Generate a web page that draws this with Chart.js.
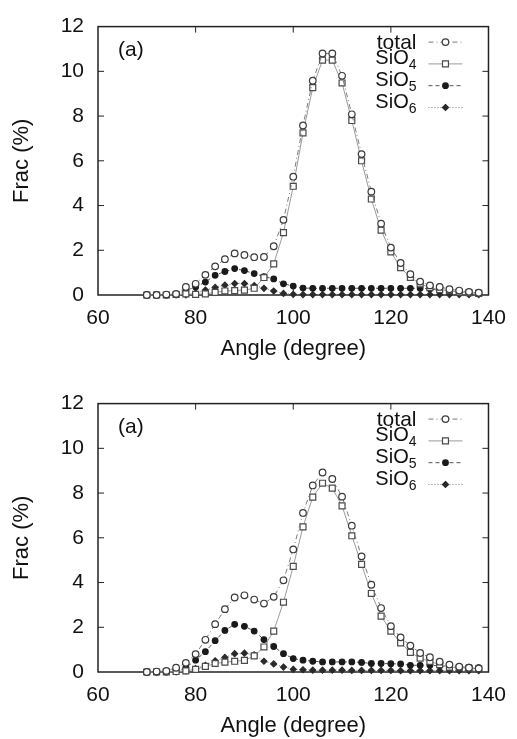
<!DOCTYPE html>
<html>
<head>
<meta charset="utf-8">
<title>Si-O-Si angle distribution</title>
<script src="https://cdn.jsdelivr.net/npm/chart.js@4.4.1/dist/chart.umd.min.js"></script>
<style>
  html, body { margin: 0; padding: 0; background: #fff; overflow: hidden; }
  canvas { position: absolute; left: 0; }
  #chartTop { top: 0; }
  #chartBottom { top: 377px; }
</style>
</head>
<body>
<canvas id="chartTop" width="517" height="377"></canvas>
<canvas id="chartBottom" width="517" height="377"></canvas>
<script>
// Angle bins (degree)
const angles = [70, 72, 74, 76, 78, 80, 82, 84, 86, 88,
                90, 92, 94, 96, 98, 100, 102, 104, 106, 108,
                110, 112, 114, 116, 118, 120, 122, 124, 126, 128,
                130, 132, 134, 136, 138];

// Upper panel (%)
const totalTop = [0, 0, 0.02, 0.05, 0.36, 0.5, 0.9, 1.28, 1.6, 1.86,
                  1.79, 1.69, 1.7, 2.18, 3.36, 5.29, 7.58, 9.58, 10.8, 10.8,
                  9.8, 8.08, 6.3, 4.62, 3.19, 2.12, 1.43, 0.93, 0.6, 0.43,
                  0.36, 0.26, 0.2, 0.14, 0.1];
const sio4Top = [0, 0, 0, 0.02, 0.05, 0.03, 0.05, 0.12, 0.18, 0.2,
                 0.22, 0.3, 0.78, 1.39, 2.79, 4.86, 7.25, 9.27, 10.5, 10.5,
                 9.48, 7.8, 6.0, 4.29, 2.9, 1.93, 1.22, 0.79, 0.5, 0.33,
                 0.24, 0.19, 0.13, 0.1, 0.07];
const sio5Top = [0, 0, 0, 0.03, 0.2, 0.36, 0.58, 0.88, 1.05, 1.18,
                 1.09, 0.96, 0.82, 0.72, 0.5, 0.4, 0.31, 0.3, 0.3, 0.3,
                 0.3, 0.3, 0.3, 0.3, 0.3, 0.3, 0.3, 0.3, 0.3, 0.28,
                 0.2, 0.17, 0.14, 0.12, 0.1];
const sio6Top = [0, 0, 0, 0, 0, 0.08, 0.22, 0.34, 0.44, 0.51,
                 0.51, 0.42, 0.3, 0.18, 0.07, 0.03, 0.02, 0.02, 0.02, 0.02,
                 0.02, 0.02, 0.02, 0.02, 0.02, 0.02, 0.02, 0.02, 0.02, 0.02,
                 0.02, 0.02, 0.02, 0.02, 0.02];

// Lower panel (%)
const totalBottom = [0, 0.02, 0.05, 0.19, 0.41, 0.8, 1.44, 2.14, 2.81, 3.33,
                     3.43, 3.24, 3.06, 3.36, 4.1, 5.48, 7.11, 8.34, 8.92, 8.63,
                     7.84, 6.54, 5.17, 3.9, 2.86, 2.05, 1.55, 1.18, 0.85, 0.66,
                     0.46, 0.33, 0.24, 0.19, 0.16];
const sio4Bottom = [0, 0, 0, 0.02, 0.05, 0.12, 0.25, 0.38, 0.44, 0.48,
                    0.52, 0.72, 1.12, 1.83, 3.12, 4.72, 6.49, 7.82, 8.44, 8.22,
                    7.43, 6.09, 4.81, 3.51, 2.5, 1.83, 1.3, 0.88, 0.62, 0.47,
                    0.33, 0.22, 0.19, 0.16, 0.14];
const sio5Bottom = [0, 0, 0, 0.03, 0.19, 0.53, 0.91, 1.4, 1.86, 2.13,
                    2.04, 1.83, 1.45, 1.14, 0.82, 0.6, 0.53, 0.48, 0.45, 0.45,
                    0.45, 0.45, 0.43, 0.38, 0.38, 0.37, 0.36, 0.3, 0.3, 0.3,
                    0.28, 0.24, 0.22, 0.22, 0.2];
const sio6Bottom = [0, 0, 0, 0, 0.05, 0.15, 0.3, 0.5, 0.65, 0.82,
                    0.84, 0.77, 0.48, 0.36, 0.22, 0.12, 0.1, 0.08, 0.08, 0.08,
                    0.08, 0.07, 0.07, 0.07, 0.07, 0.07, 0.06, 0.06, 0.06, 0.06,
                    0.06, 0.06, 0.06, 0.06, 0.06];

// Legend names: main text + subscript
const seriesNames = [['total', ''], ['SiO', '4'], ['SiO', '5'], ['SiO', '6']];
const panelLabel = '(a)';

// Line/marker look of each series (gnuplot-like greys)
const seriesStyles = [
  { dash: [5, 3, 1, 3], line: '#7a7a7a', point: 'circle', radius: 3.3, fill: '#fff', edge: '#3a3a3a' },
  { dash: [], line: '#9a9a9a', point: 'rect', radius: 4.2, fill: '#fff', edge: '#4a4a4a' },
  { dash: [4, 3], line: '#555', point: 'circle', radius: 2.8, fill: '#1a1a1a', edge: '#1a1a1a' },
  { dash: [1, 2], line: '#777', point: 'rectRot', radius: 3, fill: '#2a2a2a', edge: '#2a2a2a' }
];

Chart.defaults.font.family = "'Liberation Sans', Arial, sans-serif";
Chart.defaults.color = '#111';

// draw one marker by hand (for the legend samples)
function drawMarker(ctx, st, x, y) {
  ctx.save();
  ctx.setLineDash([]);
  ctx.lineWidth = 1.2;
  ctx.fillStyle = st.fill;
  ctx.strokeStyle = st.edge;
  ctx.beginPath();
  if (st.point === 'circle') {
    ctx.arc(x, y, st.radius, 0, Math.PI * 2);
  } else if (st.point === 'rect') {
    const h = st.radius * Math.SQRT1_2;
    ctx.rect(x - h, y - h, h * 2, h * 2);
  } else {
    const r = st.radius;
    ctx.moveTo(x, y - r); ctx.lineTo(x + r, y); ctx.lineTo(x, y + r); ctx.lineTo(x - r, y);
    ctx.closePath();
  }
  ctx.fill();
  ctx.stroke();
  ctx.restore();
}

// frame box with inward ticks, legend and panel label
const gnuplotLook = {
  id: 'gnuplotLook',
  beforeDatasetsDraw(chart) {
    const { ctx, chartArea: a, scales } = chart;
    ctx.save();
    ctx.strokeStyle = '#222';
    ctx.lineWidth = 1.5;
    ctx.strokeRect(a.left, a.top, a.right - a.left, a.bottom - a.top);
    ctx.lineWidth = 1;
    ctx.beginPath();
    scales.x.ticks.forEach(t => {
      const px = scales.x.getPixelForValue(t.value);
      if (px <= a.left + 1 || px >= a.right - 1) return;
      ctx.moveTo(px, a.bottom); ctx.lineTo(px, a.bottom - 6);
      ctx.moveTo(px, a.top); ctx.lineTo(px, a.top + 6);
    });
    scales.y.ticks.forEach(t => {
      const py = scales.y.getPixelForValue(t.value);
      if (py <= a.top + 1 || py >= a.bottom - 1) return;
      ctx.moveTo(a.left, py); ctx.lineTo(a.left + 6, py);
      ctx.moveTo(a.right, py); ctx.lineTo(a.right - 6, py);
    });
    ctx.stroke();
    ctx.restore();
  },
  afterDraw(chart) {
    const { ctx, chartArea: a } = chart;
    ctx.save();
    ctx.fillStyle = '#111';
    ctx.textBaseline = 'alphabetic';

    // panel label
    ctx.font = "21px 'Liberation Sans', Arial, sans-serif";
    ctx.textAlign = 'left';
    ctx.fillText(panelLabel, a.left + 20, a.top + 29);

    // legend (text right aligned, sample on the right)
    const textRight = a.right - 72;
    seriesNames.forEach((nm, i) => {
      const rowY = a.top + 15.5 + 21.8 * i;
      const st = seriesStyles[i];
      ctx.textAlign = 'right';
      if (nm[1] === '') {
        ctx.font = "21px 'Liberation Sans', Arial, sans-serif";
        ctx.fillText(nm[0], textRight, rowY + 6.5);
      } else {
        ctx.font = "14px 'Liberation Sans', Arial, sans-serif";
        const subW = ctx.measureText(nm[1]).width;
        ctx.fillText(nm[1], textRight, rowY + 5.5);
        ctx.font = "20px 'Liberation Sans', Arial, sans-serif";
        ctx.fillText(nm[0], textRight - subW, rowY + 0.5);
      }
      ctx.strokeStyle = st.line;
      ctx.lineWidth = 1;
      ctx.setLineDash(st.dash);
      ctx.beginPath();
      ctx.moveTo(a.right - 60, rowY);
      ctx.lineTo(a.right - 26, rowY);
      ctx.stroke();
      drawMarker(ctx, st, a.right - 43, rowY);
    });
    ctx.restore();
  }
};

function makeDataset(values, i) {
  const st = seriesStyles[i];
  return {
    label: seriesNames[i].join(''),
    data: angles.map((a, k) => ({ x: a, y: values[k] })),
    borderColor: st.line,
    borderWidth: 1,
    borderDash: st.dash,
    pointStyle: st.point,
    pointRadius: st.radius,
    pointBackgroundColor: st.fill,
    pointBorderColor: st.edge,
    pointBorderWidth: 1.2,
    tension: 0,
    clip: false
  };
}

function createPanel(canvasId, total, sio4, sio5, sio6) {
  const ctx = document.getElementById(canvasId).getContext('2d');
  return new Chart(ctx, {
    type: 'line',
    data: {
      datasets: [total, sio4, sio5, sio6].map(makeDataset)
    },
    options: {
      responsive: false,
      animation: false,
      devicePixelRatio: 1,
      layout: { padding: { top: 15, right: 24, left: 0, bottom: 0 } },
      plugins: {
        legend: { display: false },
        tooltip: { enabled: false }
      },
      scales: {
        x: {
          type: 'linear',
          min: 60,
          max: 140,
          ticks: { stepSize: 20, padding: 11, font: { size: 21 }, color: '#111' },
          grid: { display: false, drawTicks: false },
          border: { display: false },
          title: {
            display: true,
            text: 'Angle (degree)',
            color: '#111',
            font: { size: 22 },
            padding: { top: 0, bottom: 15 }
          },
          afterFit: scale => { scale.height = 82; }
        },
        y: {
          min: 0,
          max: 12,
          ticks: { stepSize: 2, padding: 14, font: { size: 21 }, color: '#111' },
          grid: { display: false, drawTicks: false },
          border: { display: false },
          title: {
            display: true,
            text: 'Frac (%)',
            color: '#111',
            font: { size: 22 },
            padding: { top: 9, bottom: 0 }
          },
          afterFit: scale => { scale.width = 98; }
        }
      }
    },
    plugins: [gnuplotLook]
  });
}

createPanel('chartTop', totalTop, sio4Top, sio5Top, sio6Top);
createPanel('chartBottom', totalBottom, sio4Bottom, sio5Bottom, sio6Bottom);
</script>
</body>
</html>
